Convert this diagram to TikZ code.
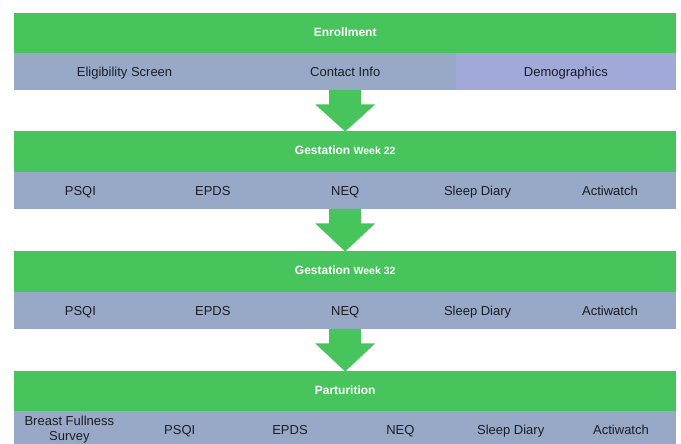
\documentclass[tikz,border=0pt]{standalone}
\usepackage{fontspec}
\setmainfont{Liberation Sans}
\usetikzlibrary{calc}
\definecolor{barGreen}{RGB}{72,196,92}
\definecolor{cellBlue}{RGB}{152,169,200}
\definecolor{cellLav}{RGB}{160,169,216}
\definecolor{txtDark}{RGB}{28,28,34}
\tikzset{
  stage/.style={fill=barGreen, minimum width=662pt, minimum height=40.5pt,
    inner sep=0pt, text=white, anchor=north west,
    text height=9pt, text depth=2pt,
    font=\bfseries\fontsize{12}{14}\selectfont},
  cell/.style={fill=cellBlue, minimum height=37pt, inner sep=0pt,
    text=txtDark, anchor=north west, align=center,
    font=\fontsize{13}{14}\selectfont},
  oneline/.style={text height=10pt, text depth=1pt},
  flow/.style={fill=barGreen}
}
\newcommand{\smallwk}[1]{{\fontsize{10.5}{12}\selectfont #1}}
% block arrow from the bottom of one stage's cells to the next stage bar
\newcommand{\flowarrow}[3]{%
  \fill[flow] let \p1=(#1.center |- #2.south), \p2=(#3.north) in
    ({\x1-16pt},{\y1+0.5pt}) -- ({\x1+16pt},{\y1+0.5pt}) -- ({\x1+16pt},{\y1-14pt})
    -- ({\x1+30pt},{\y1-14pt}) -- (\x1,{\y2-0.5pt}) -- ({\x1-30pt},{\y1-14pt})
    -- ({\x1-16pt},{\y1-14pt}) -- cycle;}
\begin{document}
\begin{tikzpicture}[x=1pt,y=-1pt]
\useasboundingbox (0,0) rectangle (681,444);

% Enrollment
\node[stage] (s1) at (14,13) {Enrollment};
\node[cell, oneline, minimum width=220.7pt] (c1a) at (14,53) {Eligibility Screen};
\node[cell, oneline, minimum width=220.7pt] (c1b) at (234.7,53) {Contact Info};
\node[cell, oneline, minimum width=220.6pt, fill=cellLav] (c1c) at (455.4,53) {Demographics};

% Gestation week 22
\node[stage] (s2) at (14,131) {Gestation \smallwk{Week 22}};
\foreach [count=\i] \t in {PSQI, EPDS, NEQ, Sleep Diary, Actiwatch}
  \node[cell, oneline, minimum width=132.4pt] (c2\i) at ({14+(\i-1)*132.4},172) {\t};

% Gestation week 32
\node[stage] (s3) at (14,251) {Gestation \smallwk{Week 32}};
\foreach [count=\i] \t in {PSQI, EPDS, NEQ, Sleep Diary, Actiwatch}
  \node[cell, oneline, minimum width=132.4pt] (c3\i) at ({14+(\i-1)*132.4},292) {\t};

% Parturition
\node[stage] (s4) at (14,371) {Parturition};
\node[cell, minimum width=110.33pt] (c41) at (14,411) {Breast Fullness\\[1pt]Survey};
\foreach [count=\i from 2] \t in {PSQI, EPDS, NEQ, Sleep Diary, Actiwatch}
  \node[cell, oneline, minimum width=110.33pt] (c4\i) at ({14+(\i-1)*110.33},411) {\t};

% arrows between stages
\flowarrow{s1}{c1b}{s2}
\flowarrow{s2}{c23}{s3}
\flowarrow{s3}{c33}{s4}
\end{tikzpicture}
\end{document}
